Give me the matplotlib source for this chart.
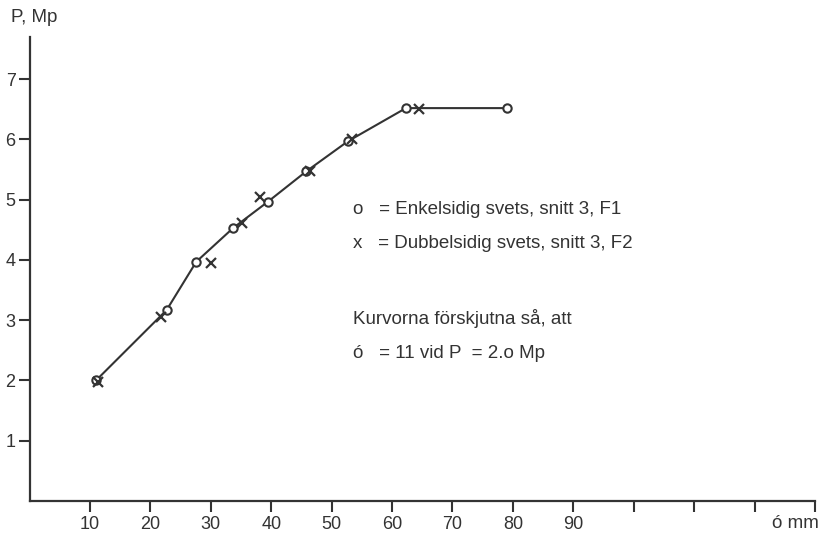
import matplotlib.pyplot as plt

# Enkelsidig svets (o) - the curve is drawn through these
delta_o = [11.0, 22.7, 27.6, 33.7, 39.5, 45.8, 52.7, 62.3, 79.1]
p_o = [2.0, 3.17, 3.97, 4.53, 4.97, 5.47, 5.97, 6.52, 6.52]

# Dubbelsidig svets (x)
delta_x = [11.3, 21.8, 30.1, 35.1, 38.1, 46.4, 53.3, 64.5]
p_x = [1.97, 3.06, 3.95, 4.61, 5.05, 5.47, 6.0, 6.51]

x_ticks = [10, 20, 30, 40, 50, 60, 70, 80, 90, 100, 110, 120, 130]
x_labels = ['10', '20', '30', '40', '50', '60', '70', '80', '90', '', '', '', '']
y_ticks = [1, 2, 3, 4, 5, 6, 7]

ink = '#333333'
fs = 13.5
plt.rcParams['font.family'] = ['Liberation Sans', 'DejaVu Sans']

W, H = 834, 533
fig = plt.figure(figsize=(W / 100, H / 100), dpi=100)
ax = fig.add_axes([29.5 / W, 32 / H, (815 - 29.5) / W, (501 - 37) / H])

ax.plot(delta_o, p_o, color=ink, lw=1.5, marker='o', markersize=6,
        markerfacecolor='white', markeredgecolor=ink, markeredgewidth=1.5)
ax.plot(delta_x, p_x, linestyle='none', marker='x', markersize=7,
        markeredgecolor=ink, markeredgewidth=1.6)

ax.set_xlim(0, 130)
ax.set_ylim(0, 7.7)
ax.spines['top'].set_visible(False)
ax.spines['right'].set_visible(False)
for s in ['left', 'bottom']:
    ax.spines[s].set_color(ink)
    ax.spines[s].set_linewidth(1.6)

ax.set_xticks(x_ticks)
ax.set_xticklabels(x_labels)
ax.set_yticks(y_ticks)
ax.tick_params(axis='x', direction='out', length=8, width=1.5, color=ink,
               labelsize=fs - 0.5, labelcolor=ink, pad=3)
ax.tick_params(axis='y', direction='out', length=8, width=1.5, color=ink,
               labelsize=fs - 0.5, labelcolor=ink, pad=2)

fig.text(11 / W, 1 - 18 / H, 'P, Mp', fontsize=fs, color=ink, va='center')
fig.text(819 / W, 1 - 524 / H, 'ó mm', fontsize=fs, color=ink,
         ha='right', va='center')

tx = 353 / W
fig.text(tx, 1 - 210 / H, 'o   = Enkelsidig svets, snitt 3, F1', fontsize=fs,
         color=ink, va='center')
fig.text(tx, 1 - 243 / H, 'x   = Dubbelsidig svets, snitt 3, F2', fontsize=fs,
         color=ink, va='center')
fig.text(tx, 1 - 318 / H, 'Kurvorna förskjutna så, att', fontsize=fs,
         color=ink, va='center')
fig.text(tx, 1 - 353 / H, 'ó   = 11 vid P  = 2.o Mp', fontsize=fs,
         color=ink, va='center')

fig.savefig('out.png', dpi=100)
